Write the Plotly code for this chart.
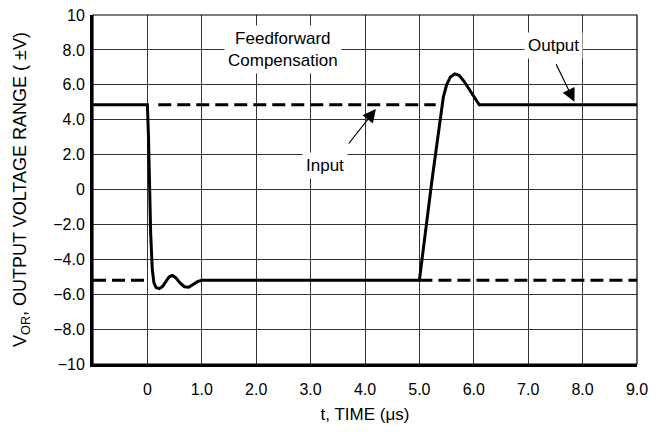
import plotly.graph_objects as go

# Output waveform (solid)
out_t = [-1.0, 0.0, 0.02, 0.04, 0.06, 0.09, 0.12, 0.16, 0.22, 0.28, 0.34, 0.40, 0.46, 0.52,
         0.60, 0.68, 0.76, 0.84, 0.92, 1.0, 5.0, 5.23, 5.38, 5.44, 5.50, 5.57, 5.65, 5.73,
         5.82, 5.95, 6.10, 9.0]
out_v = [4.85, 4.85, 3.0, 0.0, -2.5, -4.6, -5.35, -5.62, -5.68, -5.55, -5.25, -5.0, -4.93, -5.05,
         -5.35, -5.57, -5.6, -5.45, -5.28, -5.2, -5.2, 0.5, 4.0, 5.3, 6.0, 6.45, 6.62, 6.55,
         6.2, 5.6, 4.85, 4.85]

# Input waveform (dashed), drawn as level segments
in_t = [-1.0, 0.0, None, 0.2, 5.3, None, 5.0, 9.0]
in_v = [-5.2, -5.2, None, 4.85, 4.85, None, -5.2, -5.2]

x_ticks = [0, 1, 2, 3, 4, 5, 6, 7, 8, 9]
x_ticktext = ["0", "1.0", "2.0", "3.0", "4.0", "5.0", "6.0", "7.0", "8.0", "9.0"]
y_ticks = [10, 8, 6, 4, 2, 0, -2, -4, -6, -8, -10]
y_ticktext = ["10", "8.0", "6.0", "4.0", "2.0", "0", "\u22122.0", "\u22124.0", "\u22126.0",
              "\u22128.0", "\u221210"]

FONT = "Liberation Sans, Arial, sans-serif"

fig = go.Figure()
fig.add_trace(go.Scatter(x=in_t, y=in_v, mode="lines", connectgaps=False,
                         line=dict(color="black", width=3, dash="13px,6px"),
                         hoverinfo="skip", showlegend=False))
fig.add_trace(go.Scatter(x=out_t, y=out_v, mode="lines",
                         line=dict(color="black", width=3),
                         hoverinfo="skip", showlegend=False))

# thin frame (top/right)
fig.add_shape(type="rect", xref="x domain", yref="y domain", x0=0, x1=1, y0=0, y1=1,
              line=dict(color="black", width=1.2), layer="above")

# Text labels with white boxes
fig.add_annotation(x=2.49, y=8.0, text="Feedforward<br>Compensation", showarrow=False,
                   font=dict(size=17, color="black", family=FONT), bgcolor="white", borderpad=3)
fig.add_annotation(x=3.26, y=1.4, text="Input", showarrow=False,
                   font=dict(size=17, color="black", family=FONT), bgcolor="white", borderpad=3)
fig.add_annotation(x=7.46, y=8.28, text="Output", showarrow=False,
                   font=dict(size=17, color="black", family=FONT), bgcolor="white", borderpad=3)

# Arrows
fig.add_annotation(x=4.2, y=4.61, ax=3.68, ay=2.55, axref="x", ayref="y", xref="x", yref="y",
                   text="", showarrow=True, arrowhead=2, arrowsize=2.2, arrowwidth=1.2,
                   arrowcolor="black")
fig.add_annotation(x=7.85, y=5.03, ax=7.5, ay=7.27, axref="x", ayref="y", xref="x", yref="y",
                   text="", showarrow=True, arrowhead=2, arrowsize=2.2, arrowwidth=1.2,
                   arrowcolor="black")

fig.update_xaxes(range=[-1, 9], tickvals=x_ticks, ticktext=x_ticktext,
                 showgrid=True, gridcolor="#333333", gridwidth=1,
                 showline=True, linecolor="black", linewidth=3,
                 zeroline=False, ticks="", ticklen=0, automargin=False,
                 ticklabelstandoff=9, ticklabeloverflow="allow",
                 tickfont=dict(size=16, color="black", family=FONT),
                 title=dict(text="t, TIME (\u03bcs)", font=dict(size=17, color="black", family=FONT),
                            standoff=18))
fig.update_yaxes(range=[-10, 10], tickvals=y_ticks, ticktext=y_ticktext,
                 showgrid=True, gridcolor="#333333", gridwidth=1,
                 showline=True, linecolor="black", linewidth=3,
                 zeroline=False, ticks="", ticklen=0, automargin=False,
                 ticklabelstandoff=2, ticklabeloverflow="allow",
                 tickfont=dict(size=16, color="black", family=FONT),
                 title=dict(text="V<sub>OR</sub>, OUTPUT VOLTAGE RANGE ( \u00b1V)",
                            font=dict(size=18, color="black", family=FONT), standoff=22))

fig.update_layout(width=648, height=416, plot_bgcolor="white", paper_bgcolor="white",
                  margin=dict(l=85, r=19, t=7, b=60), showlegend=False,
                  font=dict(family=FONT, color="black"))

fig.write_html("out.html")
